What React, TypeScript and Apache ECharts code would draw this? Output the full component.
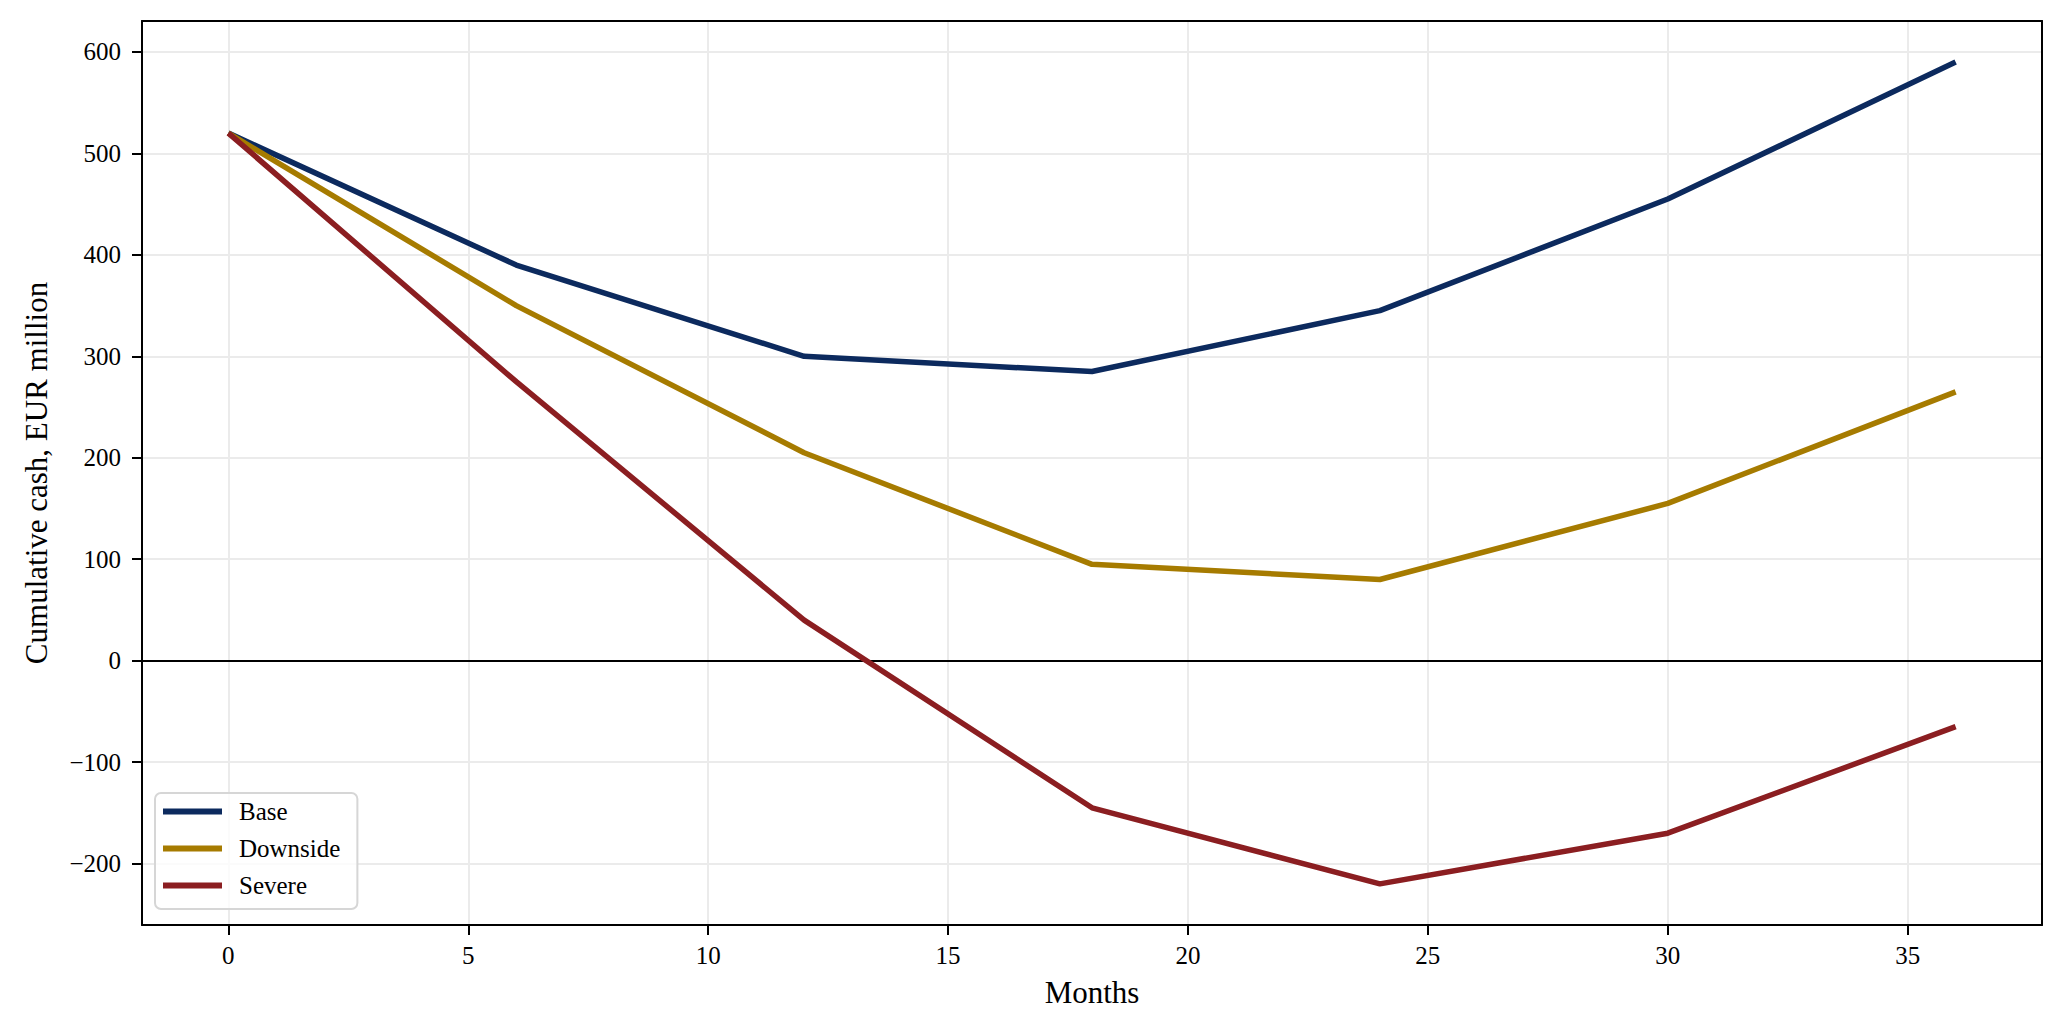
import * as echarts from "echarts";
import React, { useEffect, useRef } from "react";

const months = [0, 6, 12, 18, 24, 30, 36];
const base = [520, 390, 300, 285, 345, 455, 590];
const downside = [520, 350, 205, 95, 80, 155, 265];
const severe = [520, 275, 40, -145, -220, -170, -65];

// axis extents (matplotlib-style 5% margins), tick step counts and tick values
const xRange = [-1.8, 37.8];
const yRange = [-260.5, 630.5];
const xSplits = 8; // -> step 5
const ySplits = 9; // -> step 100
const xTicks = [0, 5, 10, 15, 20, 25, 30, 35];
const yTicks = [-200, -100, 0, 100, 200, 300, 400, 500, 600];

const FONT = "Liberation Serif";

const CashChart: React.FC = () => {
  const chartRef = useRef<HTMLDivElement | null>(null);

  useEffect(() => {
    if (!chartRef.current) return;
    const chart = echarts.init(chartRef.current, undefined, { renderer: "svg" });

    const lineSeries = (name: string, values: number[], color: string) => ({
      name,
      type: "line" as const,
      xAxisIndex: 0,
      yAxisIndex: 0,
      data: months.map((m, i) => [m, values[i]]),
      showSymbol: false,
      symbol: "none",
      lineStyle: { color, width: 5.5 },
      itemStyle: { color },
      z: 3,
    });

    const spine = { show: true, onZero: false, lineStyle: { color: "#000", width: 2 } };
    const grid = { show: true, lineStyle: { color: "#ebebeb", width: 2 } };
    const off = { show: false };

    // helper axes shifted 10px outward, drawing inside ticks back to the spine
    const tickAxis = (values: number[]) => ({
      type: "value" as const,
      offset: 10,
      axisLine: { show: true, onZero: false, lineStyle: { color: "rgba(0,0,0,0)", width: 1 } },
      axisTick: {
        show: true,
        inside: true,
        length: 10,
        lineStyle: { color: "#000", width: 2 },
        customValues: values,
      },
      axisLabel: { show: false, customValues: values },
      splitLine: off,
    });

    const option: echarts.EChartsOption = {
      animation: false,
      backgroundColor: "#fff",
      textStyle: { fontFamily: FONT, color: "#000" },
      grid: { left: 142, right: 22, top: 21, bottom: 108, show: false },
      legend: {
        orient: "vertical",
        left: 155,
        top: 793,
        icon: "rect",
        itemWidth: 59,
        itemHeight: 6,
        itemGap: 12,
        padding: [6, 17, 11, 8],
        backgroundColor: "rgba(255,255,255,0.8)",
        borderColor: "#d6d6d6",
        borderWidth: 2,
        borderRadius: 6,
        textStyle: { fontFamily: FONT, fontSize: 25, color: "#000", padding: [0, 0, 0, 12] },
        data: ["Base", "Downside", "Severe"],
      },
      xAxis: [
        {
          type: "value",
          position: "bottom",
          min: xRange[0],
          max: xRange[1],
          splitNumber: xSplits,
          name: "Months",
          nameLocation: "middle",
          nameGap: 52,
          nameTextStyle: { fontFamily: FONT, fontSize: 31, color: "#000" },
          axisLine: spine,
          axisTick: off,
          axisLabel: {
            fontFamily: FONT,
            fontSize: 25,
            color: "#000",
            margin: 18,
            showMinLabel: false,
            showMaxLabel: false,
          },
          splitLine: grid,
        },
        {
          type: "value",
          position: "top",
          min: xRange[0],
          max: xRange[1],
          axisLine: spine,
          axisTick: off,
          axisLabel: off,
          splitLine: off,
        },
        {
          ...tickAxis(xTicks),
          position: "bottom",
          min: xRange[0],
          max: xRange[1],
        },
      ],
      yAxis: [
        {
          type: "value",
          position: "left",
          min: yRange[0],
          max: yRange[1],
          splitNumber: ySplits,
          name: "Cumulative cash, EUR million",
          nameLocation: "middle",
          nameGap: 90,
          nameTextStyle: { fontFamily: FONT, fontSize: 31, color: "#000" },
          axisLine: spine,
          axisTick: off,
          axisLabel: {
            fontFamily: FONT,
            fontSize: 25,
            color: "#000",
            margin: 21,
            showMinLabel: false,
            showMaxLabel: false,
            formatter: (v: number) => String(v).replace("-", "\u2212"),
          },
          splitLine: grid,
        },
        {
          type: "value",
          position: "right",
          min: yRange[0],
          max: yRange[1],
          axisLine: spine,
          axisTick: off,
          axisLabel: off,
          splitLine: off,
        },
        {
          ...tickAxis(yTicks),
          position: "left",
          min: yRange[0],
          max: yRange[1],
        },
      ],
      series: [
        {
          ...lineSeries("Base", base, "#0c2a5e"),
          markLine: {
            silent: true,
            symbol: "none",
            label: { show: false },
            lineStyle: { color: "#000", width: 2, type: "solid" },
            data: [{ yAxis: 0 }],
            z: 2,
          },
        },
        lineSeries("Downside", downside, "#a67b00"),
        lineSeries("Severe", severe, "#8b1e21"),
      ],
    };

    chart.setOption(option);
    return () => {
      chart.dispose();
    };
  }, []);

  return (
    <div
      ref={chartRef}
      style={{ position: "fixed", left: 0, top: 0, width: 2064, height: 1033 }}
    />
  );
};

export default function App() {
  return <CashChart />;
}
